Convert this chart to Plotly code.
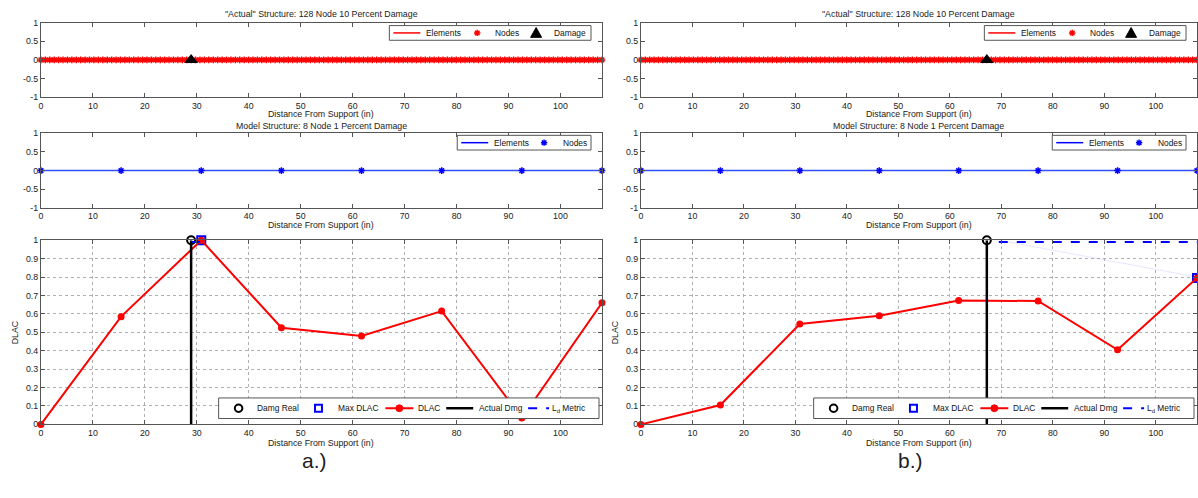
import plotly.graph_objects as go

# ---------------- data ----------------
actual_node_x = [
    0.00, 0.85, 1.70, 2.55, 3.40, 4.25, 5.10, 5.95, 6.80, 7.65,
    8.50, 9.35, 10.20, 11.06, 11.91, 12.76, 13.61, 14.46, 15.31, 16.16,
    17.01, 17.86, 18.71, 19.56, 20.41, 21.26, 22.11, 22.96, 23.81, 24.66,
    25.51, 26.36, 27.21, 28.06, 28.91, 29.76, 30.61, 31.46, 32.31, 33.17,
    34.02, 34.87, 35.72, 36.57, 37.42, 38.27, 39.12, 39.97, 40.82, 41.67,
    42.52, 43.37, 44.22, 45.07, 45.92, 46.77, 47.62, 48.47, 49.32, 50.17,
    51.02, 51.87, 52.72, 53.57, 54.43, 55.28, 56.13, 56.98, 57.83, 58.68,
    59.53, 60.38, 61.23, 62.08, 62.93, 63.78, 64.63, 65.48, 66.33, 67.18,
    68.03, 68.88, 69.73, 70.58, 71.43, 72.28, 73.13, 73.98, 74.83, 75.69,
    76.54, 77.39, 78.24, 79.09, 79.94, 80.79, 81.64, 82.49, 83.34, 84.19,
    85.04, 85.89, 86.74, 87.59, 88.44, 89.29, 90.14, 90.99, 91.84, 92.69,
    93.54, 94.39, 95.24, 96.09, 96.94, 97.80, 98.65, 99.50, 100.35, 101.20,
    102.05, 102.90, 103.75, 104.60, 105.45, 106.30, 107.15, 108.00,
]
actual_node_y = [0.0] * len(actual_node_x)

model_node_x = [0.00, 15.43, 30.86, 46.29, 61.71, 77.14, 92.57, 108.00]
model_node_y = [0.0, 0.0, 0.0, 0.0, 0.0, 0.0, 0.0, 0.0]

damage_x_a = 28.91
damage_x_b = 67.18

dlac_a = [0.0, 0.585, 1.0, 0.525, 0.48, 0.615, 0.035, 0.66]
dlac_b = [0.0, 0.105, 0.545, 0.59, 0.672, 0.67, 0.405, 0.795]

maxdlac_x_a, maxdlac_y_a = 30.86, 1.0
maxdlac_x_b, maxdlac_y_b = 108.0, 0.795

ld_metric_x_a = [28.91, 30.86]
ld_metric_y_a = [0.99, 0.99]
ld_metric_x_b = [69.5, 108.0]
ld_metric_y_b = [0.99, 0.99]
ld_faint_x_b = [69.5, 108.0]
ld_faint_y_b = [1.0, 0.8]

x_ticks = [0, 10, 20, 30, 40, 50, 60, 70, 80, 90, 100]
beam_range = [0, 108]

title_actual = '"Actual" Structure: 128 Node 10 Percent Damage'
title_model = "Model Structure: 8 Node 1 Percent Damage"
x_label = "Distance From Support (in)"
y_label = "DLAC"
captions = ["a.)", "b.)"]

legend_top_names = ["Elements", "Nodes", "Damage"]
legend_mid_names = ["Elements", "Nodes"]
legend_bot_names = ["Damg Real", "Max DLAC", "DLAC", "Actual Dmg", "L<sub>d</sub> Metric"]

# ---------------- layout helpers ----------------
W, H = 1198, 498
FONT = "Liberation Sans, Arial, sans-serif"
AX = "#555555"
RED = "#ff0000"
BLUE = "#0000ff"
MIDBLUE = "#3050ff"
FS = 8.8
FS_LEG = 8.4
GRID = "#b0b0b0"


def px_x(p):
    return p / W


def px_y(p):
    return 1 - p / H


cols = [(39, 601), (640, 1197)]
rows = [(18, 94), (131, 207), (240, 428)]

fig = go.Figure()

axis_common = dict(
    showline=True, linecolor=AX, linewidth=1, mirror="ticks",
    ticks="inside", ticklen=4, tickcolor=AX, zeroline=False,
    tickfont=dict(family=FONT, size=FS, color="#222"),
)

ax_id = 0
for c, (x0, x1) in enumerate(cols):
    for r, (y0, y1) in enumerate(rows):
        ax_id += 1
        xa = "xaxis" if ax_id == 1 else f"xaxis{ax_id}"
        ya = "yaxis" if ax_id == 1 else f"yaxis{ax_id}"
        xref = "x" if ax_id == 1 else f"x{ax_id}"
        yref = "y" if ax_id == 1 else f"y{ax_id}"
        grid = r == 2
        fig.layout[xa] = dict(
            axis_common, domain=[px_x(x0), px_x(x1)], anchor=yref,
            range=beam_range, tickvals=x_ticks,
            showgrid=grid, gridcolor=GRID, griddash="dot", gridwidth=1,
        )
        if r < 2:
            fig.layout[ya] = dict(
                axis_common, domain=[px_y(y1), px_y(y0)], anchor=xref,
                range=[-1, 1], tickvals=[-1, -0.5, 0, 0.5, 1],
                ticktext=["-1", "-0.5", "0", "0.5", "1"], showgrid=False,
            )
        else:
            fig.layout[ya] = dict(
                axis_common, domain=[px_y(y1), px_y(y0)], anchor=xref,
                range=[0, 1], dtick=0.1, tick0=0,
                showgrid=True, gridcolor=GRID, griddash="dot", gridwidth=1,
            )

panels = [
    dict(damage=damage_x_a, dlac=dlac_a, mx=maxdlac_x_a, my=maxdlac_y_a,
         ldx=ld_metric_x_a, ldy=ld_metric_y_a, faint=None, ax0=0),
    dict(damage=damage_x_b, dlac=dlac_b, mx=maxdlac_x_b, my=maxdlac_y_b,
         ldx=ld_metric_x_b, ldy=ld_metric_y_b,
         faint=(ld_faint_x_b, ld_faint_y_b), ax0=3),
]


def refs(n):
    return ("x" if n == 1 else f"x{n}", "y" if n == 1 else f"y{n}")


for c, p in enumerate(panels):
    # ---- top: actual structure
    xr, yr = refs(p["ax0"] + 1)
    fig.add_trace(go.Scatter(x=actual_node_x, y=actual_node_y, mode="lines",
                             line=dict(color=RED, width=1.5), name=legend_top_names[0],
                             xaxis=xr, yaxis=yr))
    fig.add_trace(go.Scatter(x=actual_node_x, y=actual_node_y, mode="markers",
                             marker=dict(symbol="asterisk-open", size=5.5, color=RED,
                                         line=dict(color=RED, width=1.5)),
                             name=legend_top_names[1], xaxis=xr, yaxis=yr, cliponaxis=False))
    fig.add_trace(go.Scatter(x=[p["damage"]], y=[0], mode="markers",
                             marker=dict(symbol="triangle-up", size=12, color="black"),
                             name=legend_top_names[2], xaxis=xr, yaxis=yr, cliponaxis=False))

    # ---- middle: model structure
    xr, yr = refs(p["ax0"] + 2)
    fig.add_trace(go.Scatter(x=model_node_x, y=model_node_y, mode="lines",
                             line=dict(color=MIDBLUE, width=1.5), name=legend_mid_names[0],
                             xaxis=xr, yaxis=yr))
    fig.add_trace(go.Scatter(x=model_node_x, y=model_node_y, mode="markers",
                             marker=dict(symbol="asterisk-open", size=5.5, color=BLUE,
                                         line=dict(color=BLUE, width=1.5)),
                             name=legend_mid_names[1], xaxis=xr, yaxis=yr, cliponaxis=False))

    # ---- bottom: DLAC
    xr, yr = refs(p["ax0"] + 3)
    if p["faint"] is not None:
        fig.add_trace(go.Scatter(x=p["faint"][0], y=p["faint"][1], mode="lines",
                                 line=dict(color="rgba(150,160,255,0.25)", width=1),
                                 hoverinfo="skip", xaxis=xr, yaxis=yr))
    fig.add_trace(go.Scatter(x=[p["damage"]], y=[1.0], mode="markers",
                             marker=dict(symbol="circle-open", size=8, color="black",
                                         line=dict(color="black", width=2)),
                             name=legend_bot_names[0], xaxis=xr, yaxis=yr, cliponaxis=False))
    fig.add_trace(go.Scatter(x=[p["mx"]], y=[p["my"]], mode="markers",
                             marker=dict(symbol="square-open", size=8, color=BLUE,
                                         line=dict(color=BLUE, width=2)),
                             name=legend_bot_names[1], xaxis=xr, yaxis=yr, cliponaxis=False))
    fig.add_trace(go.Scatter(x=model_node_x, y=p["dlac"], mode="lines+markers",
                             line=dict(color=RED, width=2),
                             marker=dict(symbol="circle", size=7, color=RED),
                             name=legend_bot_names[2], xaxis=xr, yaxis=yr, cliponaxis=False))
    fig.add_trace(go.Scatter(x=[p["damage"], p["damage"]], y=[0, 1], mode="lines",
                             line=dict(color="black", width=2.5),
                             name=legend_bot_names[3], xaxis=xr, yaxis=yr))
    fig.add_trace(go.Scatter(x=p["ldx"], y=p["ldy"], mode="lines",
                             line=dict(color=BLUE, width=2, dash="dash"),
                             name="Ld Metric", xaxis=xr, yaxis=yr, cliponaxis=False))

fig.update_traces(showlegend=False)

# ---------------- MATLAB-style legend boxes (decoration) ----------------
shapes = []
ann = []


def P(x, y):
    return px_x(x), px_y(y)


def box(left, top, right, bottom):
    (a, b), (c_, d) = P(left, top), P(right, bottom)
    shapes.append(dict(type="rect", xref="paper", yref="paper", x0=a, y0=d, x1=c_, y1=b,
                       fillcolor="white", line=dict(color=AX, width=1), layer="above"))


def seg(xa, xb, y, color, width, dash="solid"):
    (a, b), (c_, _) = P(xa, y), P(xb, y)
    shapes.append(dict(type="line", xref="paper", yref="paper", x0=a, y0=b, x1=c_, y1=b,
                       line=dict(color=color, width=width, dash=dash), layer="above"))


def circ(cx, cy, r, color, fill=None, width=2):
    (a, b), (c_, d) = P(cx - r, cy - r), P(cx + r, cy + r)
    shapes.append(dict(type="circle", xref="paper", yref="paper", x0=a, y0=d, x1=c_, y1=b,
                       fillcolor=fill if fill else "rgba(0,0,0,0)",
                       line=dict(color=color, width=width), layer="above"))


def sq(cx, cy, r, color, width=2):
    (a, b), (c_, d) = P(cx - r, cy - r), P(cx + r, cy + r)
    shapes.append(dict(type="rect", xref="paper", yref="paper", x0=a, y0=d, x1=c_, y1=b,
                       fillcolor="rgba(0,0,0,0)", line=dict(color=color, width=width),
                       layer="above"))


def tri(cx, cy, color):
    pts = [P(cx - 5.5, cy + 4.5), P(cx + 5.5, cy + 4.5), P(cx, cy - 5.5)]
    path = "M {} {} L {} {} L {} {} Z".format(*[v for pt in pts for v in pt])
    shapes.append(dict(type="path", xref="paper", yref="paper", path=path,
                       fillcolor=color, line=dict(color=color, width=1), layer="above"))


def star(cx, cy, color, r=3.2):
    d = r * 0.72
    segs = [((cx - r, cy), (cx + r, cy)), ((cx, cy - r), (cx, cy + r)),
            ((cx - d, cy - d), (cx + d, cy + d)), ((cx - d, cy + d), (cx + d, cy - d))]
    path = " ".join("M {} {} L {} {}".format(*P(*s[0]), *P(*s[1])) for s in segs)
    shapes.append(dict(type="path", xref="paper", yref="paper", path=path,
                       line=dict(color=color, width=1.5), layer="above"))


def label(x, y, text):
    a, b = P(x, y)
    ann.append(dict(text=text, x=a, y=b, xref="paper", yref="paper", showarrow=False,
                    xanchor="left", yanchor="middle",
                    font=dict(family=FONT, size=FS_LEG, color="#111")))


for c, (x0, x1) in enumerate(cols):
    # top legend
    R, T, h = x1 - 11, 21, 15
    cy = T + h / 2
    box(R - 202, T, R, T + h)
    seg(R - 198, R - 171, cy, RED, 1.5)
    label(R - 167, cy, legend_top_names[0])
    star(R - 114, cy, RED)
    label(R - 98, cy, legend_top_names[1])
    tri(R - 55, cy, "black")
    label(R - 39, cy, legend_top_names[2])

    # middle legend
    R, T, h = x1 - 11, 133, 15
    cy = T + h / 2
    box(R - 134, T, R, T + h)
    seg(R - 130, R - 103, cy, BLUE, 1.5)
    label(R - 99, cy, legend_mid_names[0])
    star(R - 47, cy, BLUE)
    label(R - 30, cy, legend_mid_names[1])

    # bottom legend
    R, T, h = x1 - 3, 401, 21
    cy = T + h / 2
    box(R - 381, T, R, T + h)
    circ(R - 361, cy, 3.8, "black")
    label(R - 345, cy, legend_bot_names[0])
    sq(R - 281, cy, 3.5, BLUE)
    label(R - 263, cy, legend_bot_names[1])
    seg(R - 214, R - 186, cy, RED, 2)
    circ(R - 200, cy, 3.5, RED, fill=RED, width=1)
    label(R - 183, cy, legend_bot_names[2])
    seg(R - 153, R - 126, cy, "black", 2.5)
    label(R - 122, cy, legend_bot_names[3])
    seg(R - 71, R - 50, cy, BLUE, 2, "dash")
    label(R - 49, cy, legend_bot_names[4])

# ---------------- text ----------------
titles = []
for c, (x0, x1) in enumerate(cols):
    xc = px_x((x0 + x1) / 2)
    titles.append(dict(text=title_actual, x=xc, y=px_y(9)))
    titles.append(dict(text=x_label, x=xc, y=px_y(111)))
    titles.append(dict(text=title_model, x=xc, y=px_y(123)))
    titles.append(dict(text=x_label, x=xc, y=px_y(225)))
    titles.append(dict(text=x_label, x=xc, y=px_y(447)))
    titles.append(dict(text=y_label, x=px_x(x0 - 26), y=px_y(334), textangle=-90))
for a in titles:
    a.update(xref="paper", yref="paper", showarrow=False, xanchor="center",
             yanchor="middle", font=dict(family=FONT, size=FS, color="#222"))
ann = titles + ann
for cap, cx in zip(captions, [313, 910]):
    ann.append(dict(text=cap, x=px_x(cx), y=px_y(465), xref="paper", yref="paper",
                    xanchor="center", yanchor="middle", showarrow=False,
                    font=dict(family=FONT, size=21, color="#222")))

fig.update_layout(
    width=W, height=H, margin=dict(l=0, r=0, t=0, b=0),
    paper_bgcolor="white", plot_bgcolor="white",
    annotations=ann, shapes=shapes, showlegend=False,
    font=dict(family=FONT, size=FS),
)

fig.write_html(
    "out.html",
    config={"displayModeBar": False},
    post_script="document.body.style.margin='0';document.body.style.padding='0';",
)
